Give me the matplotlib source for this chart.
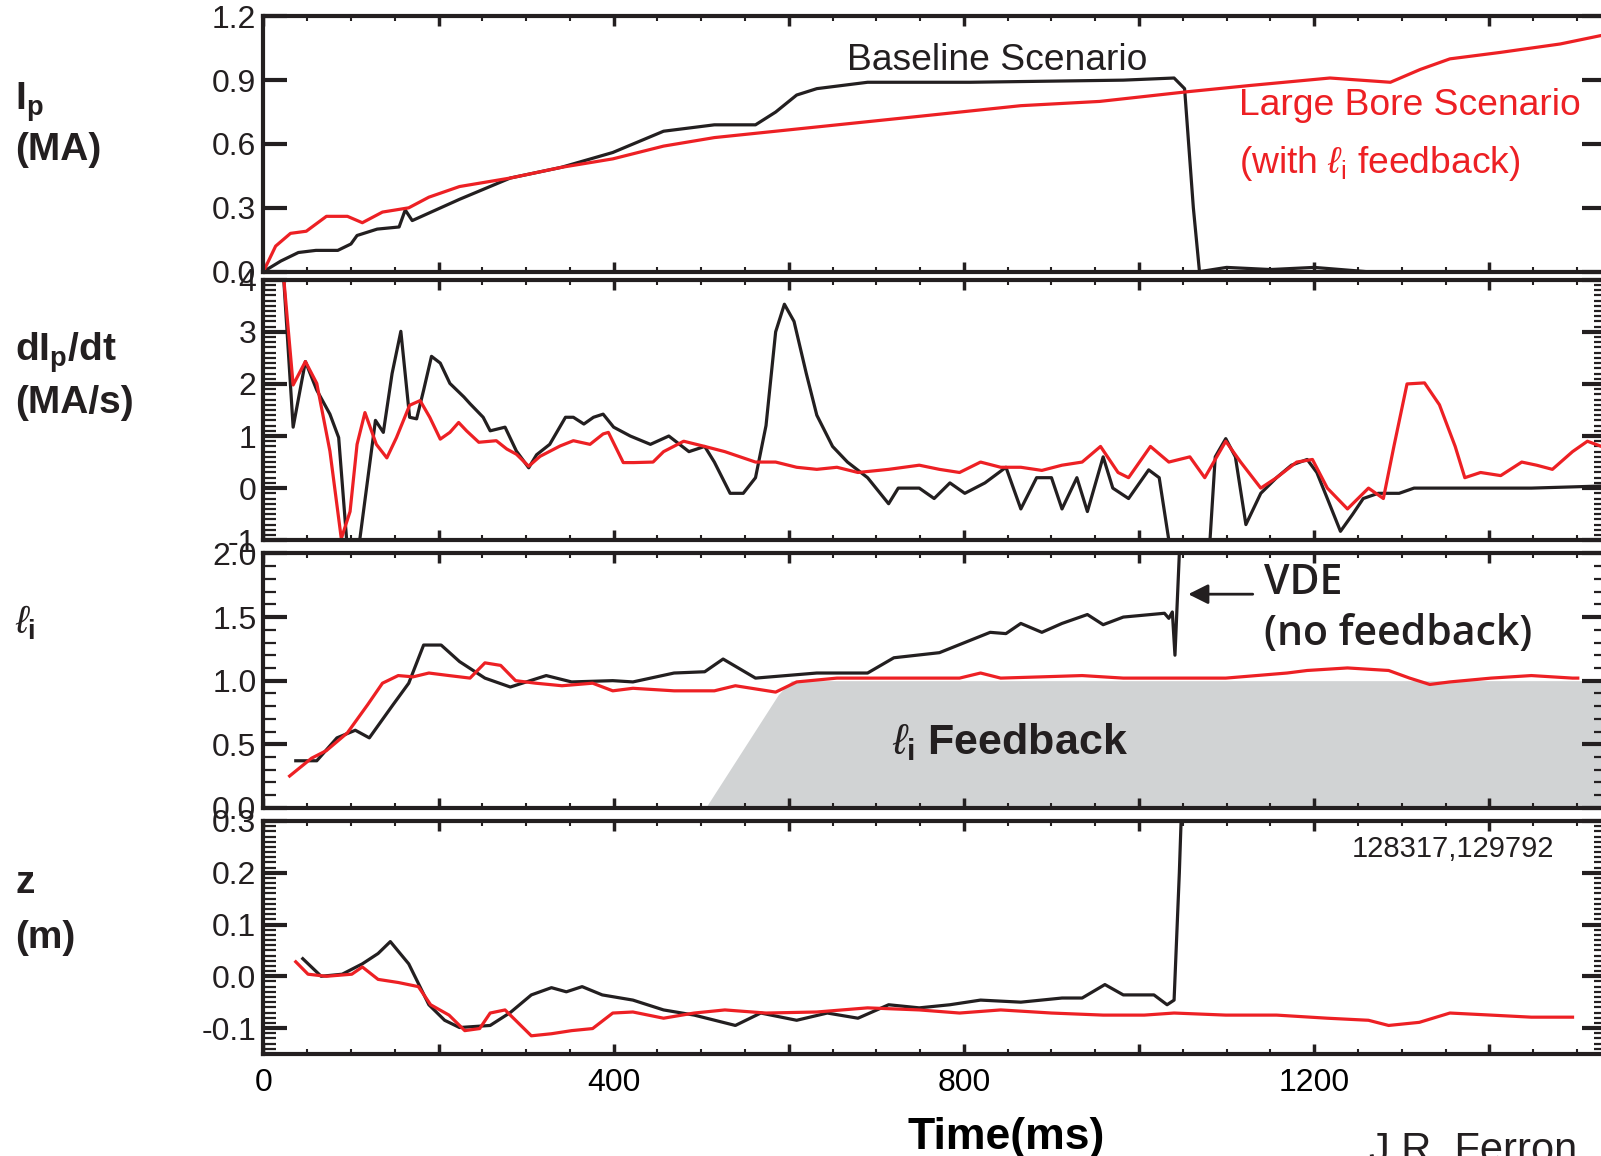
import matplotlib
matplotlib.use("Agg")
import matplotlib.pyplot as plt
from matplotlib.ticker import MultipleLocator, FuncFormatter

plt.rcParams["font.family"] = ["Liberation Sans", "DejaVu Sans"]
plt.rcParams["mathtext.fontset"] = "custom"
plt.rcParams["mathtext.rm"] = "Liberation Sans"
plt.rcParams["mathtext.it"] = "Liberation Sans:italic"
plt.rcParams["mathtext.bf"] = "Liberation Sans:bold"
plt.rcParams["axes.unicode_minus"] = False

BLACK = "#231f20"
RED = "#ed2024"
GRAY = "#d1d3d4"
NARROW = ["Liberation Sans Narrow", "Liberation Sans"]

# plasma current Ip (MA)
ip_base_t = [0, 20, 40, 60, 85, 100, 107, 130, 155, 162, 170, 224, 282, 340, 399, 457, 515,
             562, 585, 609, 632, 690, 807, 982, 1040, 1052, 1062, 1069, 1100, 1150, 1200, 1230, 1260]
ip_base = [0.0, 0.05, 0.09, 0.10, 0.10, 0.13, 0.17, 0.20, 0.21, 0.29, 0.24, 0.34, 0.44, 0.49, 0.56, 0.66, 0.69,
           0.69, 0.75, 0.83, 0.86, 0.89, 0.89, 0.90, 0.91, 0.86, 0.30, 0.0, 0.02, 0.01, 0.02, 0.01, 0.0]
ip_lb_t = [0, 14, 31, 49, 72, 96, 113, 136, 166, 189, 224, 282, 340, 399, 457, 515, 632, 749,
           865, 955, 1054, 1127, 1218, 1287, 1321, 1355, 1412, 1481, 1528]
ip_lb = [0.0, 0.12, 0.18, 0.19, 0.26, 0.26, 0.23, 0.28, 0.30, 0.35, 0.40, 0.44, 0.49, 0.53, 0.59, 0.63, 0.68, 0.73,
         0.78, 0.80, 0.845, 0.875, 0.91, 0.89, 0.95, 1.00, 1.03, 1.07, 1.11]

# dIp/dt (MA/s)
dip_base_t = [10, 23, 34, 48, 61, 76, 86, 95, 102, 110, 128, 137, 147, 157, 167, 175, 183, 192, 202, 213,
              229, 236, 251, 259, 276, 289, 303, 312, 327, 345, 354, 366, 377, 388, 400, 419, 442, 463,
              486, 504, 515, 533, 548, 562, 574, 585, 595, 606, 620, 632, 650, 667, 690, 714, 725, 749,
              766, 784, 801, 824, 848, 865, 883, 900, 912, 929, 941, 959, 970, 988, 1011, 1023, 1034,
              1050, 1070, 1081, 1087, 1099, 1110, 1122, 1139, 1157, 1174, 1192, 1203, 1215, 1230, 1244,
              1256, 1273, 1297, 1314, 1355, 1448, 1528]
dip_base = [6.0, 4.08, 1.17, 2.43, 1.88, 1.42, 0.97, -0.97, -1.6, -1.0, 1.30, 1.07, 2.2, 3.01, 1.36, 1.33, 1.88,
            2.53, 2.4, 2.01, 1.75, 1.62, 1.36, 1.1, 1.17, 0.71, 0.39, 0.64, 0.84, 1.36, 1.36, 1.23, 1.36,
            1.42, 1.17, 1.0, 0.84, 1.0, 0.7, 0.8, 0.5, -0.1, -0.1, 0.2, 1.2, 3.0, 3.53, 3.2, 2.2, 1.4, 0.8,
            0.5, 0.2, -0.3, 0.0, 0.0, -0.2, 0.1, -0.1, 0.1, 0.4, -0.4, 0.2, 0.2, -0.4, 0.2, -0.45, 0.6,
            0.0, -0.2, 0.35, 0.2, -1.0, -3.0, -3.0, -1.0, 0.6, 0.95, 0.6, -0.7, -0.1, 0.2, 0.44, 0.55,
            0.3, -0.2, -0.83, -0.5, -0.2, -0.1, -0.1, 0.0, 0.0, 0.0, 0.04]
dip_lb_t = [10, 23, 34, 48, 61, 76, 89, 99, 107, 116, 129, 141, 152, 167, 179, 190, 202, 213, 223, 232,
            246, 266, 278, 289, 303, 316, 339, 354, 373, 388, 394, 411, 423, 445, 457, 480, 504, 527,
            562, 585, 609, 632, 655, 679, 714, 749, 772, 795, 819, 842, 865, 889, 912, 935, 956, 976,
            988, 1013, 1034, 1058, 1075, 1099, 1116, 1139, 1157, 1180, 1198, 1215, 1238, 1262, 1279,
            1291, 1306, 1326, 1343, 1361, 1372, 1390, 1413, 1437, 1454, 1472, 1495, 1512, 1528]
dip_lb = [6.0, 4.08, 1.98, 2.43, 2.01, 0.71, -0.97, -0.45, 0.84, 1.45, 0.84, 0.58, 0.97, 1.59, 1.68, 1.36,
          0.94, 1.07, 1.26, 1.1, 0.88, 0.91, 0.75, 0.65, 0.42, 0.61, 0.81, 0.91, 0.84, 1.04, 1.07, 0.49,
          0.49, 0.5, 0.7, 0.9, 0.8, 0.7, 0.5, 0.5, 0.4, 0.36, 0.4, 0.3, 0.36, 0.44, 0.36, 0.3, 0.5, 0.4,
          0.4, 0.34, 0.44, 0.5, 0.8, 0.3, 0.2, 0.8, 0.5, 0.6, 0.2, 0.9, 0.5, 0.0, 0.2, 0.5, 0.55, 0.0,
          -0.4, 0.0, -0.2, 0.8, 2.0, 2.02, 1.6, 0.8, 0.2, 0.3, 0.24, 0.5, 0.44, 0.36, 0.7, 0.9, 0.8]

# internal inductance li
li_base_t = [37, 61, 84, 105, 121, 148, 166, 183, 203, 224, 253, 282, 323, 352, 399, 422, 469, 504, 525,
             562, 597, 632, 690, 720, 772, 801, 830, 848, 865, 889, 912, 941, 959, 982, 1029, 1034,
             1038, 1041, 1046, 1048]
li_base = [0.37, 0.37, 0.55, 0.61, 0.55, 0.81, 0.98, 1.28, 1.28, 1.15, 1.02, 0.95, 1.04, 0.99, 1.0, 0.99,
           1.06, 1.07, 1.17, 1.02, 1.04, 1.06, 1.06, 1.18, 1.22, 1.30, 1.38, 1.37, 1.45, 1.38, 1.45,
           1.52, 1.44, 1.50, 1.53, 1.49, 1.54, 1.20, 2.0, 2.6]
li_lb_t = [30, 55, 72, 96, 119, 136, 154, 171, 189, 212, 236, 253, 271, 288, 311, 341, 376, 399, 422,
           469, 515, 539, 585, 609, 655, 702, 749, 795, 819, 842, 889, 935, 982, 1040, 1099, 1169,
           1192, 1238, 1285, 1309, 1332, 1355, 1402, 1448, 1495, 1501]
li_lb = [0.25, 0.39, 0.45, 0.59, 0.81, 0.98, 1.04, 1.03, 1.06, 1.04, 1.02, 1.14, 1.12, 1.0, 0.98, 0.96,
         0.98, 0.92, 0.94, 0.92, 0.92, 0.96, 0.91, 0.99, 1.02, 1.02, 1.02, 1.02, 1.06, 1.02, 1.03,
         1.04, 1.02, 1.02, 1.02, 1.06, 1.08, 1.10, 1.08, 1.02, 0.97, 0.99, 1.02, 1.04, 1.02, 1.02]

# li feedback window (shaded)
fb_t = [505, 588, 603, 1540]
fb_top = [0.0, 0.89, 1.0, 1.0]

# vertical position z (m)
z_base_t = [45, 66, 90, 113, 131, 145, 166, 189, 207, 224, 259, 282, 306, 329, 346, 364, 387, 422, 457,
            492, 539, 568, 609, 644, 679, 714, 749, 784, 819, 865, 912, 935, 961, 982, 1017, 1032,
            1040, 1046, 1050]
z_base = [0.034, 0.0, 0.004, 0.024, 0.044, 0.067, 0.024, -0.055, -0.085, -0.099, -0.095, -0.07, -0.036,
          -0.022, -0.03, -0.02, -0.036, -0.046, -0.065, -0.075, -0.095, -0.071, -0.085, -0.071, -0.081,
          -0.055, -0.061, -0.055, -0.046, -0.05, -0.042, -0.042, -0.016, -0.036, -0.036, -0.055,
          -0.046, 0.2, 0.4]
z_lb_t = [37, 51, 72, 101, 113, 131, 154, 177, 191, 212, 230, 247, 259, 276, 294, 306, 329, 352, 376,
          399, 422, 457, 492, 527, 574, 632, 690, 749, 795, 842, 900, 959, 1006, 1040, 1099, 1157,
          1215, 1262, 1285, 1320, 1355, 1402, 1448, 1495]
z_lb = [0.028, 0.004, 0.0, 0.004, 0.018, -0.006, -0.012, -0.02, -0.055, -0.075, -0.105, -0.101, -0.071,
        -0.065, -0.095, -0.115, -0.111, -0.105, -0.101, -0.071, -0.069, -0.081, -0.071, -0.065, -0.071,
        -0.069, -0.061, -0.065, -0.071, -0.065, -0.071, -0.075, -0.075, -0.071, -0.075, -0.075,
        -0.081, -0.085, -0.095, -0.089, -0.071, -0.075, -0.079, -0.079]

fig = plt.figure(figsize=(16.01, 11.56), dpi=100)
left, right = 0.1645, 1.003
boxes = [(0.7650, 0.9859), (0.5327, 0.7580), (0.3012, 0.5212), (0.0883, 0.2898)]
axes = [fig.add_axes([left, b, right - left, t - b]) for b, t in boxes]

lw = 2.3
for ax in axes:
    ax.set_xlim(0, 1533)
    for s in ax.spines.values():
        s.set_linewidth(3.0)
        s.set_color(BLACK)
    ax.xaxis.set_major_locator(MultipleLocator(200))
    ax.xaxis.set_minor_locator(MultipleLocator(50))
    ax.tick_params(axis="x", which="both", direction="in", top=True, bottom=True,
                   labelbottom=False, color=BLACK)
    ax.tick_params(axis="x", which="major", length=7, width=2.5)
    ax.tick_params(axis="x", which="minor", length=3.5, width=1.5)
    ax.tick_params(axis="y", which="both", direction="in", left=True, right=True,
                   labelsize=23, colors=BLACK, pad=5)
    ax.tick_params(axis="y", which="major", length=17, width=3)
    ax.tick_params(axis="y", which="minor", length=9, width=1.6)

ax1, ax2, ax3, ax4 = axes

ax1.plot(ip_base_t, ip_base, color=BLACK, lw=lw)
ax1.plot(ip_lb_t, ip_lb, color=RED, lw=lw)
ax1.set_ylim(0, 1.2)
ax1.yaxis.set_major_locator(MultipleLocator(0.3))
ax1.yaxis.set_major_formatter(FuncFormatter(lambda v, p: f"{v:.1f}"))
ax1.text(667, 0.99, "Baseline Scenario", fontsize=26.8, color=BLACK, va="center")
ax1.text(1114, 0.78, "Large Bore Scenario", fontsize=26.8, color=RED, va="center")
ax1.text(1114, 0.51, r"(with $\ell_\mathrm{i}$ feedback)", fontsize=26.8, color=RED, va="center")

ax2.plot(dip_base_t, dip_base, color=BLACK, lw=lw)
ax2.plot(dip_lb_t, dip_lb, color=RED, lw=lw)
ax2.set_ylim(-1, 4)
ax2.yaxis.set_major_locator(MultipleLocator(1))
ax2.yaxis.set_minor_locator(MultipleLocator(0.1))
ax2.yaxis.set_major_formatter(FuncFormatter(lambda v, p: f"{v:.0f}"))

ax3.fill_between(fb_t, 0, fb_top, color=GRAY, lw=0, zorder=0)
ax3.plot(li_base_t, li_base, color=BLACK, lw=lw)
ax3.plot(li_lb_t, li_lb, color=RED, lw=lw)
ax3.set_ylim(0, 2.0)
ax3.yaxis.set_major_locator(MultipleLocator(0.5))
ax3.yaxis.set_minor_locator(MultipleLocator(0.1))
ax3.yaxis.set_major_formatter(FuncFormatter(lambda v, p: f"{v:.1f}"))
ax3.text(718, 0.52, r"$\ell_\mathbf{i}$ Feedback", fontsize=31, fontweight="bold",
         color=BLACK, va="center")
ax3.annotate("", xy=(1053, 1.68), xytext=(1133, 1.68),
             arrowprops=dict(arrowstyle="-|>", color=BLACK, lw=2, mutation_scale=30))
ax3.text(1143, 1.77, "VDE", fontsize=29.5, family=["Open Sans", "DejaVu Sans"],
         fontweight="semibold", color=BLACK, va="center")
ax3.text(1143, 1.37, "(no feedback)", fontsize=29.5, family=["Open Sans", "DejaVu Sans"],
         fontweight="semibold", color=BLACK, va="center")

ax4.plot(z_base_t, z_base, color=BLACK, lw=lw)
ax4.plot(z_lb_t, z_lb, color=RED, lw=lw)
ax4.set_ylim(-0.15, 0.3)
ax4.yaxis.set_major_locator(MultipleLocator(0.1))
ax4.yaxis.set_minor_locator(MultipleLocator(0.01))
ax4.yaxis.set_major_formatter(FuncFormatter(lambda v, p: f"{v:.1f}"))
ax4.text(1359, 0.245, "128317,129792", fontsize=21, color=BLACK, va="center", ha="center")

ax4.tick_params(axis="x", which="major", labelbottom=True, labelsize=23, pad=10)
ax4.xaxis.set_major_formatter(FuncFormatter(lambda v, p: f"{v:.0f}" if v % 400 == 0 else ""))
for lab in ax4.get_xticklabels():
    lab.set_family(NARROW)
ax4.set_xlabel("Time(ms)", fontsize=32, fontweight="bold", family=NARROW)
ax4.xaxis.set_label_coords(0.553, -0.27)

# panel titles on the left
lab_kw = dict(fontsize=28, fontweight="bold", color=BLACK, ha="left", va="center")
fig.text(0.0096, 0.912, r"I$_\mathbf{p}$", **lab_kw)
fig.text(0.0096, 0.870, "(MA)", **lab_kw)
fig.text(0.0096, 0.695, r"dI$_\mathbf{p}$/dt", **lab_kw)
fig.text(0.0096, 0.651, "(MA/s)", **lab_kw)
fig.text(0.0096, 0.461, r"$\ell_\mathbf{i}$", **lab_kw)
fig.text(0.0096, 0.236, "z", **lab_kw)
fig.text(0.0096, 0.189, "(m)", **lab_kw)

fig.text(0.855, 0.022, "J.R. Ferron", fontsize=30, family=NARROW, color=BLACK,
         ha="left", va="top")

fig.savefig("out.png", dpi=100)
